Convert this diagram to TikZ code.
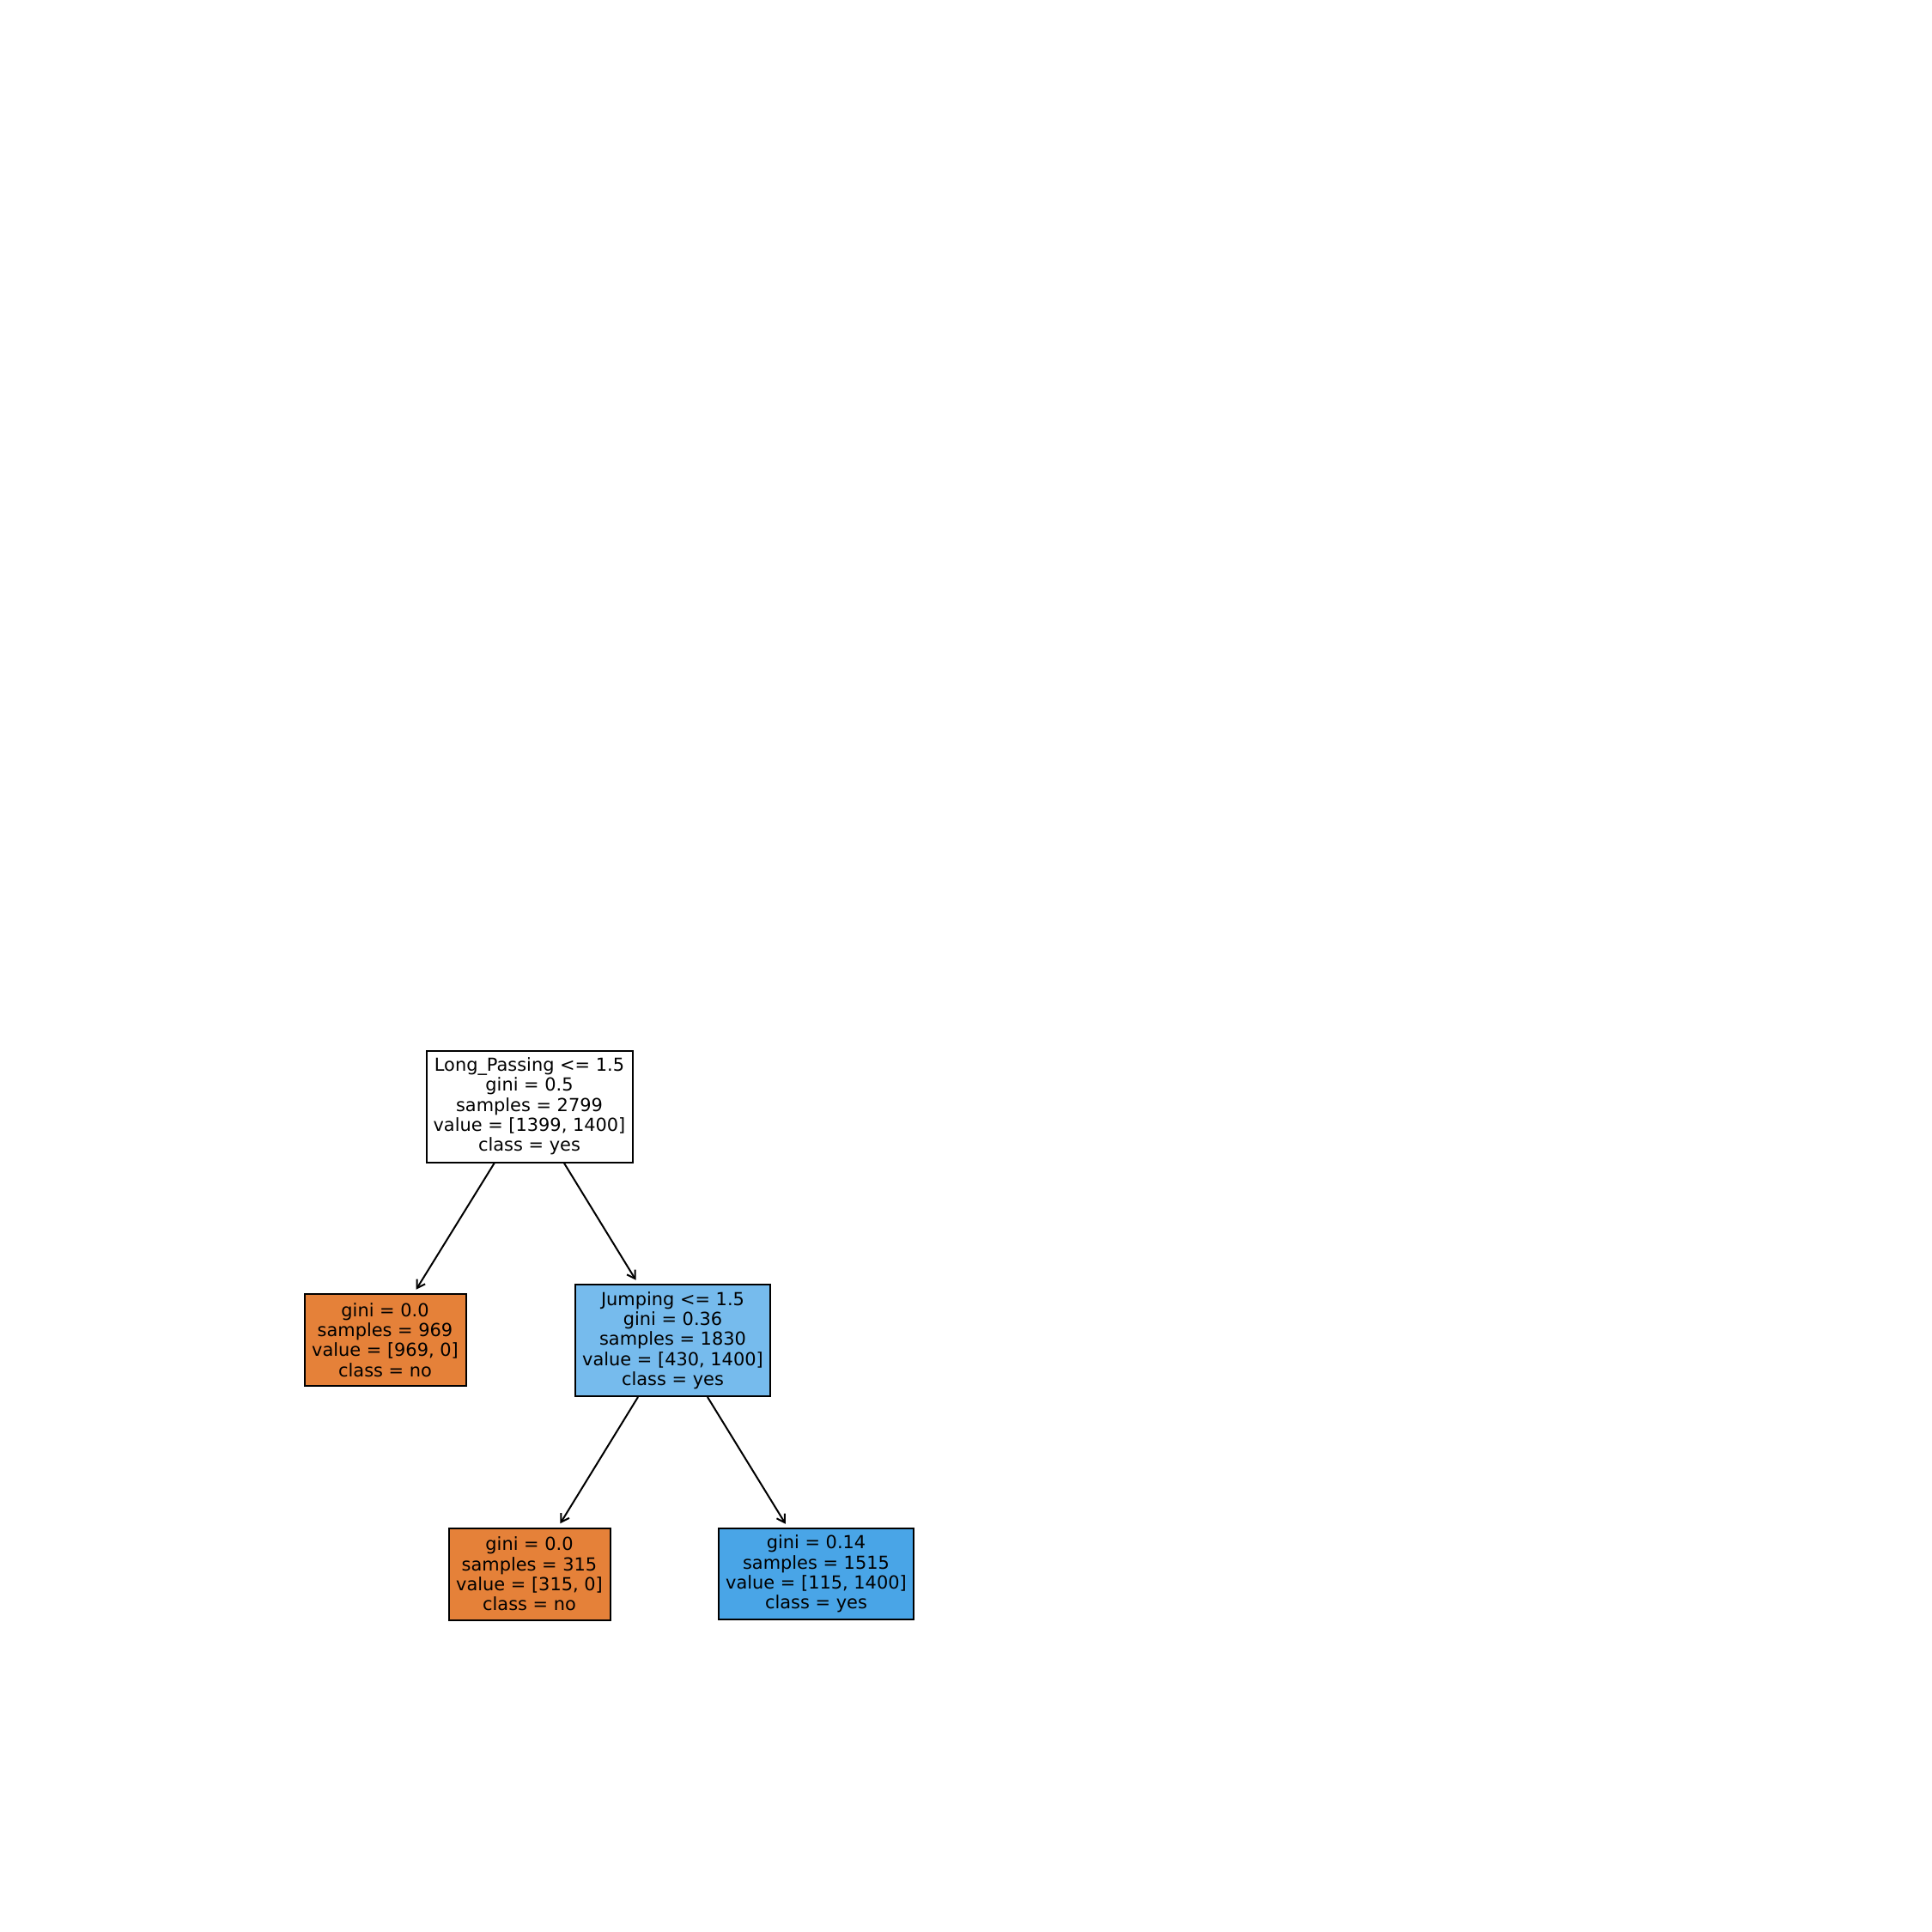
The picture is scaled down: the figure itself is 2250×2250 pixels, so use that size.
\documentclass[tikz,border=0pt]{standalone}
\usepackage{fontspec}
\setmainfont{DejaVu Sans}
\usetikzlibrary{arrows.meta}
\definecolor{clsno}{RGB}{229,129,57}
\definecolor{clsyesmid}{RGB}{118,187,237}
\definecolor{clsyes}{RGB}{73,165,231}
\tikzset{
  treebox/.style={draw=black, line width=2pt, rectangle, align=center,
    inner sep=0pt, font=\fontsize{20.9}{23.3}\selectfont},
  edge/.style={line width=2pt, -{Straight Barb[length=9pt,width=11pt,line width=2pt]},
    shorten >=5pt}
}
\begin{document}
\begin{tikzpicture}[x=1pt,y=-1pt]
\useasboundingbox[fill=white] (0,0) rectangle (2250,2250);

% decision nodes and leaves
\node[treebox, fill=white, minimum width=240pt, minimum height=130pt] (root) at (616.5,1288.5)
  {Long\_Passing <= 1.5\\gini = 0.5\\samples = 2799\\value = [1399, 1400]\\class = yes};
\node[treebox, fill=clsno, minimum width=188pt, minimum height=107pt] (leafA) at (448.5,1560.5)
  {gini = 0.0\\samples = 969\\value = [969, 0]\\class = no};
\node[treebox, fill=clsyesmid, minimum width=227pt, minimum height=130pt] (jump) at (783.5,1561)
  {Jumping <= 1.5\\gini = 0.36\\samples = 1830\\value = [430, 1400]\\class = yes};
\node[treebox, fill=clsno, minimum width=188pt, minimum height=107pt] (leafB) at (616.5,1833)
  {gini = 0.0\\samples = 315\\value = [315, 0]\\class = no};
\node[treebox, fill=clsyes, minimum width=227pt, minimum height=106pt] (leafC) at (950.5,1833)
  {gini = 0.14\\samples = 1515\\value = [115, 1400]\\class = yes};

% splits
\draw[edge] (root) -- (leafA);
\draw[edge] (root) -- (jump);
\draw[edge] (jump) -- (leafB);
\draw[edge] (jump) -- (leafC);
\end{tikzpicture}
\end{document}
